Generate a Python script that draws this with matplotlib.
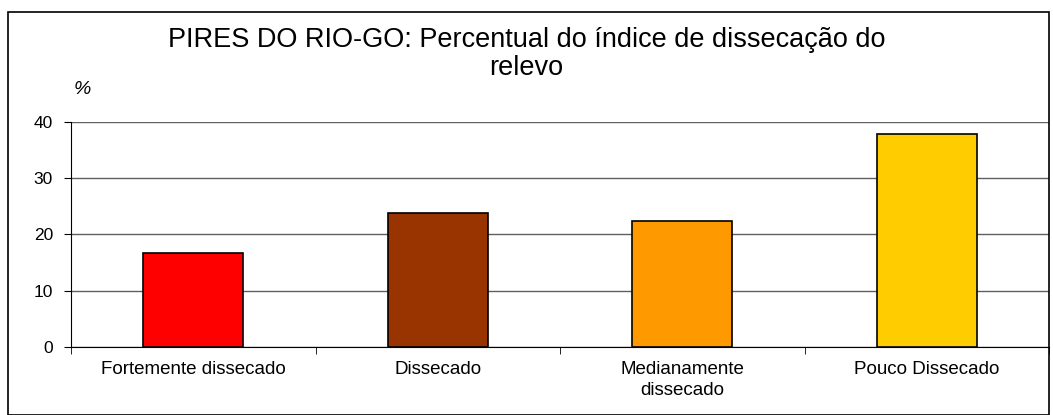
import matplotlib.pyplot as plt
from matplotlib.patches import Rectangle

categorias = ["Fortemente dissecado", "Dissecado", "Medianamente\ndissecado", "Pouco Dissecado"]
valores = [16.7, 23.7, 22.3, 37.8]
cores = ["#FF0000", "#993300", "#FF9900", "#FFCC00"]
yticks = [0, 10, 20, 30, 40]

plt.rcParams['font.family'] = ['Liberation Sans', 'DejaVu Sans']

W, H = 1053, 415
fig = plt.figure(figsize=(W / 100, H / 100), dpi=100)
ax = fig.add_axes([71 / W, 1 - 347 / H, (1049 - 71) / W, (347 - 121.5) / H])

x = range(len(categorias))
ax.bar(x, valores, width=0.41, color=cores, edgecolor="black", linewidth=1.2, zorder=3)

ax.set_xlim(-0.5, len(categorias) - 0.5)
ax.set_ylim(0, 40)
ax.set_yticks(yticks)
ax.yaxis.grid(True, color="#606060", linewidth=1, zorder=0)
ax.set_xticks(x)
ax.set_xticklabels(categorias, fontsize=13.5, linespacing=1.35)
ax.set_xticks([i + 0.5 for i in range(-1, len(categorias))], minor=True)
ax.tick_params(axis="x", which="major", length=0, pad=10)
ax.tick_params(axis="x", which="minor", length=5, direction="out", color="black")
ax.tick_params(axis="y", length=5, labelsize=12.5, direction="out", pad=8)

for s in ["top", "right"]:
    ax.spines[s].set_visible(False)
ax.spines["left"].set_color("black")
ax.spines["bottom"].set_color("black")

fig.text(0.5, 1 - 47 / H, "PIRES DO RIO-GO: Percentual do índice de dissecação do",
         ha="center", va="baseline", fontsize=19.5)
fig.text(0.5, 1 - 75 / H, "relevo", ha="center", va="baseline", fontsize=19.5)
fig.text(82 / W, 1 - 90 / H, "%", ha="center", va="center", fontsize=14, style="italic")

fig.patches.append(Rectangle((8 / W, 0), (1049 - 8) / W, 1 - 12 / H, transform=fig.transFigure,
                             fill=False, edgecolor="black", linewidth=1.2))

fig.savefig("out.png", dpi=100)
